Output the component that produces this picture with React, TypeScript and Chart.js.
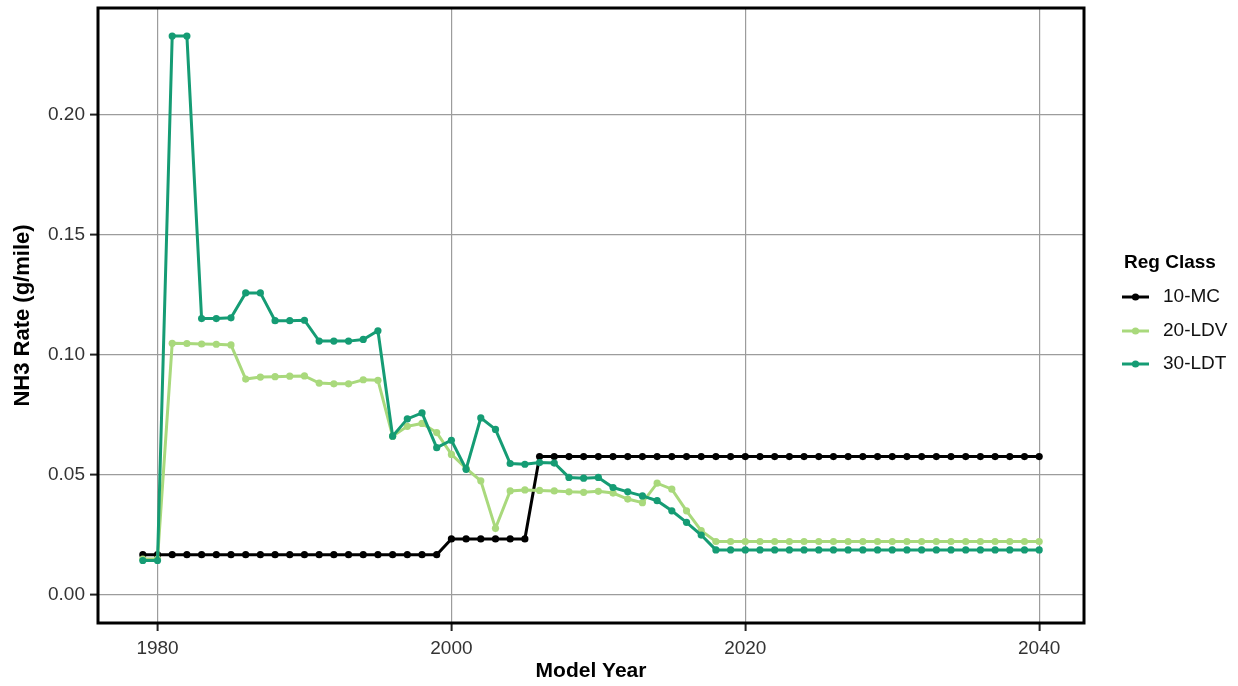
import React, { useEffect, useRef } from "react";
import { Chart, registerables } from "chart.js";

Chart.register(...registerables);

const years = [
  1979, 1980, 1981, 1982, 1983, 1984, 1985, 1986, 1987, 1988, 1989, 1990, 1991, 1992, 1993, 1994,
  1995, 1996, 1997, 1998, 1999, 2000, 2001, 2002, 2003, 2004, 2005, 2006, 2007, 2008, 2009, 2010,
  2011, 2012, 2013, 2014, 2015, 2016, 2017, 2018, 2019, 2020, 2021, 2022, 2023, 2024, 2025, 2026,
  2027, 2028, 2029, 2030, 2031, 2032, 2033, 2034, 2035, 2036, 2037, 2038, 2039, 2040,
];

const mcValues = [
  0.0168, 0.0168, 0.0168, 0.0168, 0.0168, 0.0168, 0.0168, 0.0168, 0.0168, 0.0168, 0.0168, 0.0168,
  0.0168, 0.0168, 0.0168, 0.0168, 0.0168, 0.0168, 0.0168, 0.0168, 0.0168,
  0.0234, 0.0234, 0.0234, 0.0234, 0.0234, 0.0234,
  0.0577, 0.0577, 0.0577, 0.0577, 0.0577, 0.0577, 0.0577, 0.0577, 0.0577, 0.0577, 0.0577, 0.0577,
  0.0577, 0.0577, 0.0577, 0.0577, 0.0577, 0.0577, 0.0577, 0.0577, 0.0577, 0.0577, 0.0577, 0.0577,
  0.0577, 0.0577, 0.0577, 0.0577, 0.0577, 0.0577, 0.0577, 0.0577, 0.0577, 0.0577, 0.0577,
];

const ldvValues = [
  0.015, 0.015, 0.1049, 0.1048, 0.1046, 0.1045, 0.1042, 0.09, 0.0908, 0.091, 0.0912, 0.0913,
  0.0883, 0.088, 0.088, 0.0897, 0.0895, 0.0662, 0.0703, 0.0715, 0.0677, 0.0586, 0.0528, 0.0476,
  0.0278, 0.0434, 0.0438, 0.0436, 0.0434, 0.043, 0.0428, 0.0432, 0.0425, 0.04, 0.0385, 0.0466,
  0.0441, 0.0351, 0.0268, 0.0223,
  0.0223, 0.0223, 0.0223, 0.0223, 0.0223, 0.0223, 0.0223, 0.0223, 0.0223, 0.0223, 0.0223,
  0.0223, 0.0223, 0.0223, 0.0223, 0.0223, 0.0223, 0.0223, 0.0223, 0.0223, 0.0223, 0.0223,
];

const ldtValues = [
  0.0144, 0.0144, 0.2329, 0.2329, 0.1152, 0.1152, 0.1155, 0.1259, 0.1259, 0.1143, 0.1143, 0.1145,
  0.1058, 0.1058, 0.1058, 0.1065, 0.1101, 0.0662, 0.0734, 0.0759, 0.0614, 0.0645, 0.0524, 0.0738,
  0.069, 0.0548, 0.0545, 0.0552, 0.055, 0.049, 0.0487, 0.049, 0.0448, 0.043, 0.0413, 0.0393,
  0.0351, 0.0303, 0.025, 0.0188,
  0.0188, 0.0188, 0.0188, 0.0188, 0.0188, 0.0188, 0.0188, 0.0188, 0.0188, 0.0188, 0.0188,
  0.0188, 0.0188, 0.0188, 0.0188, 0.0188, 0.0188, 0.0188, 0.0188, 0.0188, 0.0188, 0.0188,
];

const seriesLabels = ["10-MC", "20-LDV", "30-LDT"];
const seriesColors = ["#000000", "#a9d97c", "#159c74"];
const xTickValues = [1980, 2000, 2020, 2040];
const yTickValues = [0, 0.05, 0.1, 0.15, 0.2];
const legendTitle = "Reg Class";
const xTitle = "Model Year";
const yTitle = "NH3 Rate (g/mile)";

const FONT = "'Liberation Sans', Arial, sans-serif";

export default function App() {
  const canvasRef = useRef<HTMLCanvasElement | null>(null);

  useEffect(() => {
    const canvas = canvasRef.current;
    if (!canvas) return;

    const valueSets = [mcValues, ldvValues, ldtValues];
    const datasets = valueSets.map((vals, i) => ({
      label: seriesLabels[i],
      data: years.map((yr, j) => ({ x: yr, y: vals[j] })),
      borderColor: seriesColors[i],
      backgroundColor: seriesColors[i],
      pointBackgroundColor: seriesColors[i],
      pointBorderColor: seriesColors[i],
      borderWidth: 3,
      pointRadius: 3.6,
      pointBorderWidth: 0,
      tension: 0,
      order: 3 - i,
    }));

    const borderPlugin = {
      id: "panelBorder",
      afterDatasetsDraw(chart: any) {
        const { ctx, chartArea } = chart;
        ctx.save();
        ctx.strokeStyle = "#000";
        ctx.lineWidth = 3;
        ctx.strokeRect(chartArea.left, chartArea.top, chartArea.right - chartArea.left, chartArea.bottom - chartArea.top);
        ctx.restore();
      },
    };

    const legendPlugin = {
      id: "ggLegend",
      afterDraw(chart: any) {
        const { ctx } = chart;
        ctx.save();
        ctx.fillStyle = "#000";
        ctx.textBaseline = "middle";
        ctx.textAlign = "left";
        ctx.font = `bold 19px ${FONT}`;
        ctx.fillText(legendTitle, 1124, 263);
        const ys = [297, 331, 364];
        chart.data.datasets.forEach((ds: any, i: number) => {
          const y = ys[i];
          ctx.strokeStyle = ds.borderColor;
          ctx.lineWidth = 3;
          ctx.beginPath();
          ctx.moveTo(1122, y);
          ctx.lineTo(1149, y);
          ctx.stroke();
          ctx.fillStyle = ds.borderColor;
          ctx.beginPath();
          ctx.arc(1135.5, y, 3.6, 0, Math.PI * 2);
          ctx.fill();
          ctx.fillStyle = "#111";
          ctx.font = `19px ${FONT}`;
          ctx.fillText(ds.label, 1163, y);
        });
        ctx.restore();
      },
    };

    const chart = new Chart(canvas, {
      type: "line",
      data: { datasets },
      plugins: [borderPlugin, legendPlugin],
      options: {
        animation: false,
        responsive: false,
        maintainAspectRatio: false,
        layout: { padding: { left: 0, top: 8, right: 154, bottom: 0 } },
        plugins: { legend: { display: false }, tooltip: { enabled: false } },
        scales: {
          x: {
            type: "linear",
            min: 1975.95,
            max: 2043.05,
            afterBuildTicks: (s: any) => {
              s.ticks = xTickValues.map((v) => ({ value: v }));
            },
            afterFit: (s: any) => {
              s.height = 63;
              s.paddingLeft = 0;
              s.paddingRight = 0;
            },
            border: { display: false },
            grid: {
              color: "#9c9c9c",
              lineWidth: 1.2,
              tickLength: 8,
              tickColor: "#222",
              tickWidth: 2,
            },
            ticks: {
              color: "#333333",
              font: { family: FONT, size: 19 },
              padding: 6,
              maxRotation: 0,
              callback: (v: any) => String(v),
            },
            title: {
              display: true,
              text: xTitle,
              color: "#000",
              font: { family: FONT, size: 21, weight: "bold" },
              padding: { top: 0, bottom: 2 },
            },
          },
          y: {
            type: "linear",
            min: -0.01165,
            max: 0.2446,
            afterBuildTicks: (s: any) => {
              s.ticks = yTickValues.map((v) => ({ value: v }));
            },
            afterFit: (s: any) => {
              s.width = 98;
              s.paddingTop = 0;
              s.paddingBottom = 0;
            },
            border: { display: false },
            grid: {
              color: "#9c9c9c",
              lineWidth: 1.2,
              tickLength: 8,
              tickColor: "#222",
              tickWidth: 2,
            },
            ticks: {
              color: "#333333",
              font: { family: FONT, size: 19 },
              padding: 5,
              callback: (v: any) => Number(v).toFixed(2),
            },
            title: {
              display: true,
              text: yTitle,
              color: "#000",
              font: { family: FONT, size: 22, weight: "bold" },
              padding: { top: 10, bottom: 0 },
            },
          },
        },
      },
    } as any);

    return () => chart.destroy();
  }, []);

  return (
    <div style={{ position: "absolute", left: 0, top: 0, width: 1238, height: 686, background: "#fff" }}>
      <canvas ref={canvasRef} width={1238} height={686} style={{ width: 1238, height: 686, display: "block" }} />
    </div>
  );
}
